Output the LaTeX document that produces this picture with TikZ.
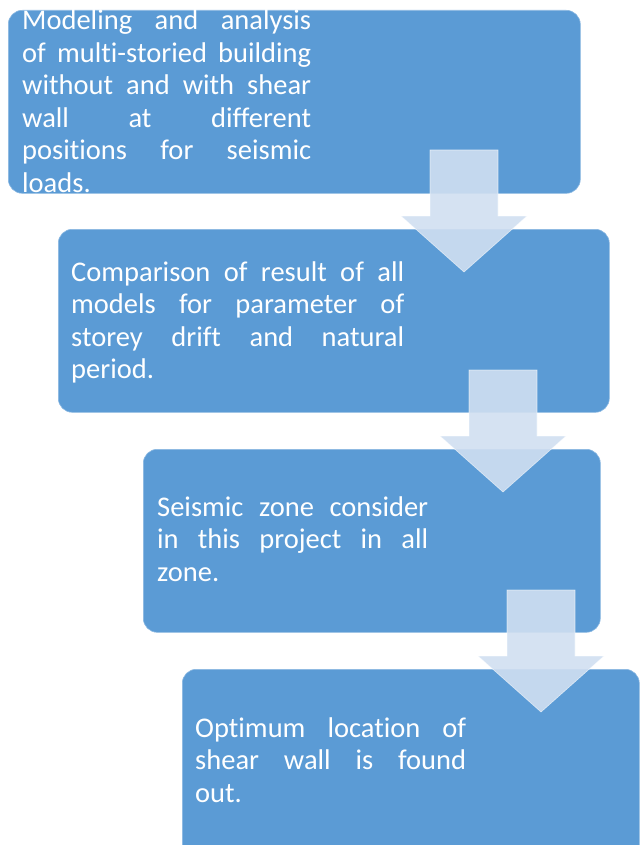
\documentclass[tikz,border=0pt]{standalone}
\usepackage{fontspec}
\setmainfont{Carlito}[Ligatures=NoCommon]
\usetikzlibrary{positioning}
\definecolor{stageblue}{HTML}{5B9BD5}
\definecolor{arrowblue}{HTML}{D0DFF1}
\newcommand{\jline}[1]{\noindent\hbox to \hsize{\spaceskip=0pt plus 1fil\relax #1}\par}
\newcommand{\jlast}[1]{\noindent\hbox{#1}}

\begin{document}
\begin{tikzpicture}[
    x=1pt, y=-1pt,
    stage/.style={draw=stageblue!70!white, line width=0.6pt, fill=stageblue, rounded corners=14pt, anchor=north west, inner sep=0pt},
    stagetext/.style={anchor=base west, inner sep=0pt, text=white, font=\fontsize{28.5}{32.5}\selectfont},
    flowarrow/.style={fill=arrowblue, fill opacity=0.9, draw=white, draw opacity=0.6, line width=0.6pt}
]
\useasboundingbox (0,0) rectangle (642,845);
\clip (0,0) rectangle (642,845);

% stages
\node[stage, minimum width=572pt, minimum height=183pt] (s1) at (8,10) {};
\node[stage, minimum width=551pt, minimum height=183pt] (s2) at (58,229) {};
\node[stage, minimum width=457pt, minimum height=183pt] (s3) at (143,449) {};
\node[stage, minimum width=457pt, minimum height=200pt] (s4) at (182,669) {};

% texts
\node[stagetext, text width=289pt] (t1) at (22,30) {\jline{Modeling and analysis}\jline{of multi-storied building}\jline{without and with shear}\jline{wall at different}\jline{positions for seismic}\jlast{loads.}};
\node[stagetext, text width=333pt] (t2) at (71,281) {\jline{Comparison of result of all}\jline{models for parameter of}\jline{storey drift and natural}\jlast{period.}};
\node[stagetext, text width=271pt] (t3) at (157,516) {\jline{Seismic zone consider}\jline{in this project in all}\jlast{zone.}};
\node[stagetext, text width=271pt] (t4) at (195,737) {\jline{Optimum location of}\jline{shear wall is found}\jlast{out.}};

% arrows between stages
\foreach \cx/\ty in {464/150, 503/370, 541/590}
  \filldraw[flowarrow] ({\cx-34},\ty) -- ({\cx+34},\ty) -- ({\cx+34},{\ty+66}) -- ({\cx+63},{\ty+66})
    -- (\cx,{\ty+122}) -- ({\cx-63},{\ty+66}) -- ({\cx-34},{\ty+66}) -- cycle;

\end{tikzpicture}
\end{document}
